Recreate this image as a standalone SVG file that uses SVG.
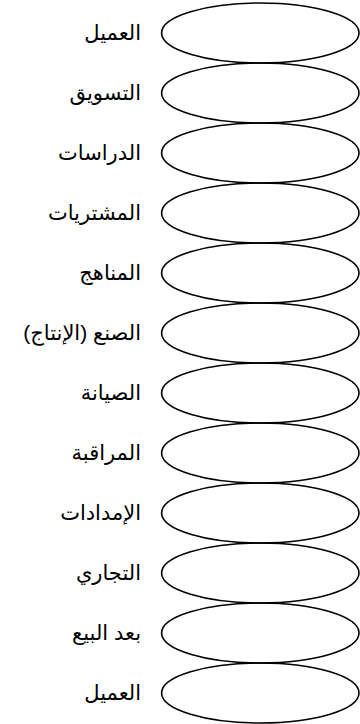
<svg xmlns="http://www.w3.org/2000/svg" width="360" height="724" viewBox="0 0 360 724">
<style>
.e{fill:none;stroke:#000;stroke-width:1.6}
.t{font-family:"Liberation Sans","DejaVu Sans","Noto Sans",sans-serif;font-size:21px;fill:#000}
</style>
<rect width="360" height="724" fill="#fff"/>
<g id="connectors"/>
<g id="n1"><ellipse class="e" cx="260.3" cy="33" rx="98.7" ry="30"/><text class="t" x="141" y="40" direction="rtl" text-anchor="start">العميل</text></g>
<g id="n2"><ellipse class="e" cx="260.3" cy="93" rx="98.7" ry="30"/><text class="t" x="141" y="100" direction="rtl" text-anchor="start">التسويق</text></g>
<g id="n3"><ellipse class="e" cx="260.3" cy="153" rx="98.7" ry="30"/><text class="t" x="141" y="160" direction="rtl" text-anchor="start">الدراسات</text></g>
<g id="n4"><ellipse class="e" cx="260.3" cy="213" rx="98.7" ry="30"/><text class="t" x="141" y="220" direction="rtl" text-anchor="start">المشتريات</text></g>
<g id="n5"><ellipse class="e" cx="260.3" cy="273" rx="98.7" ry="30"/><text class="t" x="141" y="280" direction="rtl" text-anchor="start">المناهج</text></g>
<g id="n6"><ellipse class="e" cx="260.3" cy="333" rx="98.7" ry="30"/><text class="t" x="141" y="340" direction="rtl" text-anchor="start">الصنع (الإنتاج)</text></g>
<g id="n7"><ellipse class="e" cx="260.3" cy="393" rx="98.7" ry="30"/><text class="t" x="141" y="400" direction="rtl" text-anchor="start">الصيانة</text></g>
<g id="n8"><ellipse class="e" cx="260.3" cy="453" rx="98.7" ry="30"/><text class="t" x="141" y="460" direction="rtl" text-anchor="start">المراقبة</text></g>
<g id="n9"><ellipse class="e" cx="260.3" cy="513" rx="98.7" ry="30"/><text class="t" x="141" y="520" direction="rtl" text-anchor="start">الإمدادات</text></g>
<g id="n10"><ellipse class="e" cx="260.3" cy="573" rx="98.7" ry="30"/><text class="t" x="141" y="580" direction="rtl" text-anchor="start">التجاري</text></g>
<g id="n11"><ellipse class="e" cx="260.3" cy="633" rx="98.7" ry="30"/><text class="t" x="141" y="640" direction="rtl" text-anchor="start">بعد البيع</text></g>
<g id="n12"><ellipse class="e" cx="260.3" cy="693" rx="98.7" ry="30"/><text class="t" x="141" y="700" direction="rtl" text-anchor="start">العميل</text></g>
</svg>
